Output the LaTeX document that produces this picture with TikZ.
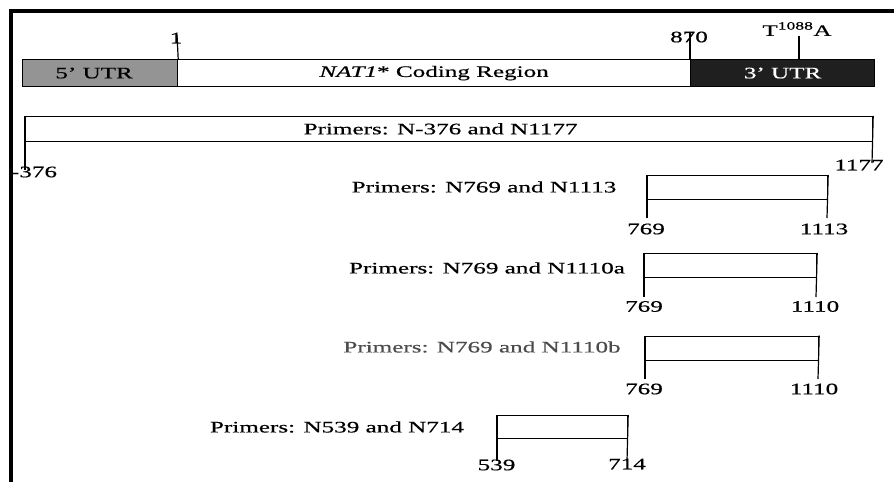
\documentclass[tikz,border=0pt]{standalone}
\usepackage{fontspec}
\setmainfont{Liberation Serif}[FakeStretch=1.57,FakeBold=0.5]
\begin{document}
\begin{tikzpicture}[x=1pt,y=-1pt,
  lbl/.style={font=\fontsize{16}{18}\selectfont, inner sep=0pt},
  seg/.style={draw, line width=1.2pt, inner sep=0pt, anchor=north west, font=\fontsize{16}{18}\selectfont},
  tick/.style={line width=1.2pt}]
\useasboundingbox (0,0) rectangle (894,482);
% frame
\draw[line width=4pt] (11,482) -- (11,11) -- (894,11);

% gene bar
\node[seg, fill=black!42, minimum width=155pt, minimum height=27pt] (utr5) at (22,59) {\hspace*{-12pt}5' UTR};
\node[seg, fill=white, minimum width=513pt, minimum height=27pt] (cds) at (177,59) {\textit{NAT1}* Coding Region};
\node[seg, fill=black!88, text=white, minimum width=184pt, minimum height=27pt] (utr3) at (690,59) {3' UTR};
\node[lbl] (one) at (176,38) {1};
\node[lbl] (n870) at (689,37) {870};
\node[lbl] (snp) at (797,29) {T\textsuperscript{1088}A};
\coordinate (t1) at (177,35);
\coordinate (t870) at (690,33);
\coordinate (tsnp) at (799,36);
\draw[tick] (t1) -- (utr5.north east);
\draw[tick] (t870) -- (utr3.north west);
\draw[tick] (tsnp) -- (tsnp |- utr3.north);

% primer bar 1
\node[seg, minimum width=847pt, minimum height=24.5pt] (p1) at (25,116) {\hspace*{-17pt}Primers: N-376 and N1177};
\coordinate (p1l) at (25,170);
\coordinate (p1r) at (872,163);
\draw[tick] (p1.north west) -- (p1l);
\draw[tick] (p1.north east) -- (p1r);
\node[lbl] (p1a) at (34,172) {-376};
\node[lbl] (p1b) at (859,165) {1177};

% box 2
\node[seg, minimum width=180pt, minimum height=24pt] (b2) at (647,175) {};
\node[lbl] (b2t) at (484,187) {Primers: N769 and N1113};
\coordinate (b2l) at (647,218);
\coordinate (b2r) at (827,218);
\draw[tick] (b2.north west) -- (b2l);
\draw[tick] (b2.north east) -- (b2r);
\node[lbl] (b2a) at (646,229) {769};
\node[lbl] (b2b) at (824,229) {1113};

% box 3
\node[seg, minimum width=172pt, minimum height=24pt] (b3) at (644,253) {};
\node[lbl] (b3t) at (487,268) {Primers: N769 and N1110a};
\coordinate (b3l) at (644,297);
\coordinate (b3r) at (816,297);
\draw[tick] (b3.north west) -- (b3l);
\draw[tick] (b3.north east) -- (b3r);
\node[lbl] (b3a) at (644,306.5) {769};
\node[lbl] (b3b) at (815,306.5) {1110};

% box 4
\node[seg, minimum width=173pt, minimum height=24pt] (b4) at (645,335.5) {};
\node[lbl, text=black!70] (b4t) at (482,347) {Primers: N769 and N1110b};
\coordinate (b4l) at (645,379);
\coordinate (b4r) at (818,379);
\draw[tick] (b4.north west) -- (b4l);
\draw[tick] (b4.north east) -- (b4r);
\node[lbl] (b4a) at (644,389) {769};
\node[lbl] (b4b) at (814,389) {1110};

% box 5
\node[seg, minimum width=130pt, minimum height=23pt] (b5) at (497,415) {};
\node[lbl] (b5t) at (337,427) {Primers: N539 and N714};
\coordinate (b5l) at (497,461);
\coordinate (b5r) at (627,461);
\draw[tick] (b5.north west) -- (b5l);
\draw[tick] (b5.north east) -- (b5r);
\node[lbl] (b5a) at (496.5,465) {539};
\node[lbl] (b5b) at (627,464) {714};
\end{tikzpicture}
\end{document}
